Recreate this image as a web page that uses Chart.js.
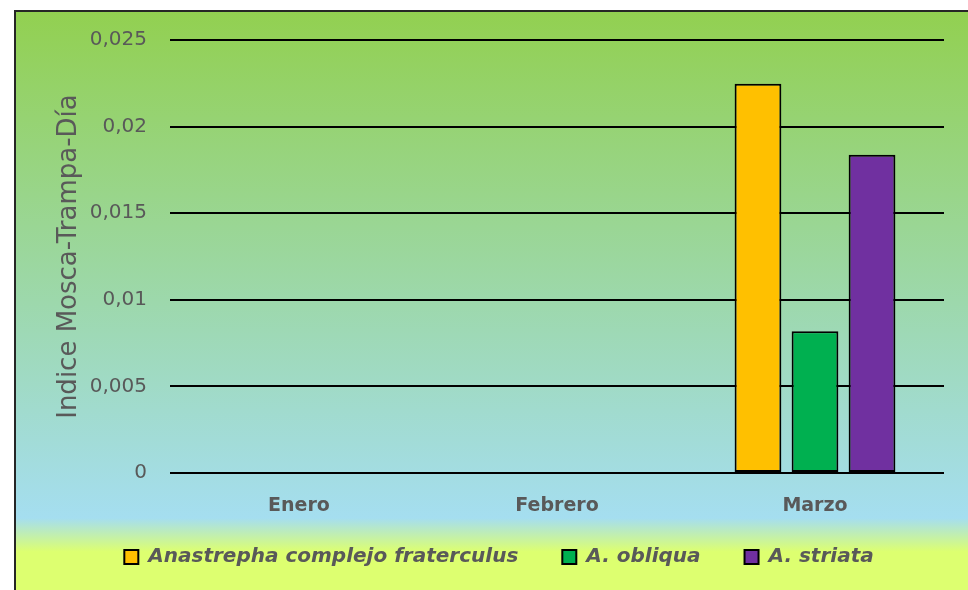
<!DOCTYPE html>
<html>
<head>
<meta charset="utf-8">
<script src="https://cdn.jsdelivr.net/npm/chart.js@4"></script>
<style>
  html, body { margin: 0; padding: 0; background: #fff; }
  #wrap { width: 968px; height: 590px; }
</style>
</head>
<body>
<div id="wrap"><canvas id="trapChart" width="968" height="590"></canvas></div>
<script>
const ctx = document.getElementById("trapChart").getContext("2d");

// Months and index values per species
const months = ["Enero", "Febrero", "Marzo"];
const fraterculus = [0, 0, 0.02247];
const obliqua = [0, 0, 0.00818];
const striata = [0, 0, 0.01838];
const yTicks = [0, 0.005, 0.01, 0.015, 0.02, 0.025];

const FONT = "'DejaVu Sans', sans-serif";
const GREY = "#595959";

// Gradient panel plus the frame edge on left/top
const panelBg = {
  id: "panelBg",
  beforeDraw(chart) {
    const c = chart.ctx;
    const w = chart.width, h = chart.height;
    const g = c.createLinearGradient(0, 10, 0, h);
    g.addColorStop(0, "rgb(146,208,80)");
    g.addColorStop(0.876, "rgb(165,222,240)");
    g.addColorStop(0.934, "rgb(221,255,112)");
    g.addColorStop(1, "rgb(221,255,112)");
    c.save();
    c.fillStyle = "#fff";
    c.fillRect(0, 0, w, h);
    c.fillStyle = g;
    c.fillRect(14, 10, w - 14, h - 10);
    c.strokeStyle = "#262626";
    c.lineWidth = 2;
    c.beginPath();
    c.moveTo(15, h);
    c.lineTo(15, 11);
    c.lineTo(w, 11);
    c.stroke();
    c.restore();
  }
};

// the wide legend padding pushes the row too low; pull it back up
const legendShift = {
  id: "legendShift",
  afterLayout(chart) {
    if (chart.legend) {
      chart.legend.top -= 13;
      chart.legend.bottom -= 13;
    }
  }
};

const makeSet = (label, data, color) => ({
  label: label,
  data: data,
  backgroundColor: color,
  borderColor: "#000",
  borderWidth: 2,
  borderSkipped: false,
  barPercentage: 0.82,
  categoryPercentage: 0.663
});

new Chart(ctx, {
  type: "bar",
  data: {
    labels: months,
    datasets: [
      makeSet("Anastrepha complejo fraterculus", fraterculus, "#FFC000"),
      makeSet("A. obliqua", obliqua, "#00B050"),
      makeSet("A. striata", striata, "#7030A0")
    ]
  },
  plugins: [panelBg, legendShift],
  options: {
    responsive: false,
    animation: false,
    devicePixelRatio: 1,
    layout: { padding: { left: 54, top: 40, right: 24, bottom: 0 } },
    plugins: {
      tooltip: { enabled: false },
      legend: {
        position: "bottom",
        labels: {
          boxWidth: 14,
          boxHeight: 14,
          padding: 44,
          color: GREY,
          font: { family: FONT, size: 20, weight: "bold", style: "italic" }
        }
      }
    },
    scales: {
      x: {
        grid: { display: false, drawTicks: false },
        border: { display: false },
        ticks: {
          padding: 22,
          color: GREY,
          font: { family: FONT, size: 19, weight: "bold" }
        },
        afterFit: (s) => { s.height = 43; }
      },
      y: {
        min: 0,
        max: 0.025,
        afterBuildTicks: (s) => { s.ticks = yTicks.map((v) => ({ value: v })); },
        grid: { color: "#000", lineWidth: 2, drawTicks: false },
        border: { display: false },
        ticks: {
          padding: 23,
          color: GREY,
          font: { family: FONT, size: 20 },
          callback: (v) => String(+v.toFixed(3)).replace(".", ",")
        },
        title: {
          display: true,
          text: "Indice Mosca-Trampa-Día",
          color: GREY,
          padding: { top: 0, bottom: 0 },
          font: { family: FONT, size: 26 }
        },
        afterFit: (s) => { s.width = 116; }
      }
    }
  }
});
</script>
</body>
</html>
